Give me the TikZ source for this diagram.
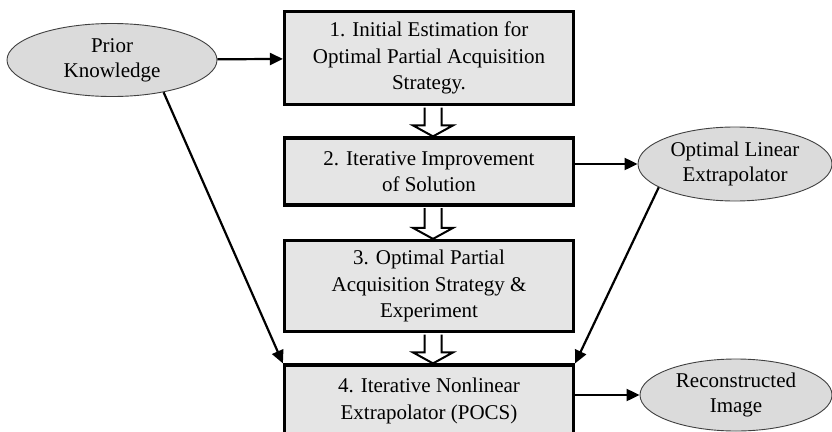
\documentclass[tikz,border=0pt]{standalone}
\usepackage{fontspec}
\setmainfont{Liberation Serif}
\usetikzlibrary{calc}
\usetikzlibrary{arrows.meta}
\usetikzlibrary{shapes.geometric}

\begin{document}
\begin{tikzpicture}[x=1pt, y=-1pt,
 stage/.style={draw, line width=3.2pt, fill=black!10, minimum width=289pt, inner sep=0, align=center, font=\fontsize{21}{26.5}\selectfont},
 cloud/.style={ellipse, draw=black!75, line width=.9pt, fill=black!14, inner sep=0, align=center, font=\fontsize{21}{25}\selectfont},
 link/.style={black, line width=2.2pt, ->, >={Triangle[length=13pt,width=12pt]}},
 hollow/.style={black, line width=2pt, fill=white, line join=miter}]
\useasboundingbox (0,0) rectangle (832,431);
\node[stage, minimum height=93pt] (b1) at (429,58) {1. Initial Estimation for\\Optimal Partial Acquisition\\Strategy.};
\node[stage, minimum height=67pt] (b2) at (429,171.5) {2. Iterative Improvement\\of Solution};
\node[stage, minimum height=91pt] (b3) at (429,286) {3. Optimal Partial\\Acquisition Strategy \&\\Experiment};
\node[stage, minimum height=72pt] (b4) at (429,401) {4. Iterative Nonlinear\\Extrapolator (POCS)};
\node[cloud, minimum width=210pt, minimum height=73pt] (prior) at (112,60) {Prior\\Knowledge};
\node[cloud, minimum width=194pt, minimum height=74pt] (optlin) at (735,164) {Optimal Linear\\Extrapolator};
\node[cloud, minimum width=192pt, minimum height=72pt] (recon) at (736,395) {Reconstructed\\Image};
\foreach \a/\b in {b1/b2,b2/b3,b3/b4}
 \draw[hollow] ($(\a.south)+(-4.5,1.6)$) -- ($(\b.north)+(-4.5,-11)$) -- ($(\b.north)+(-16,-11)$) -- ($(\b.north)+(4,0)$) -- ($(\b.north)+(24,-11)$) -- ($(\b.north)+(12.5,-11)$) -- ($(\a.south)+(12.5,1.6)$);
\draw[link] (prior) -- (b1);
\draw[link] (prior.-32) -- (b4.north west);
\draw[link] (b2.east |- optlin) -- (optlin);
\draw[link] (optlin.197) -- (b4.north east);
\draw[link] (b4.east |- recon) -- (recon);
\end{tikzpicture}
\end{document}
